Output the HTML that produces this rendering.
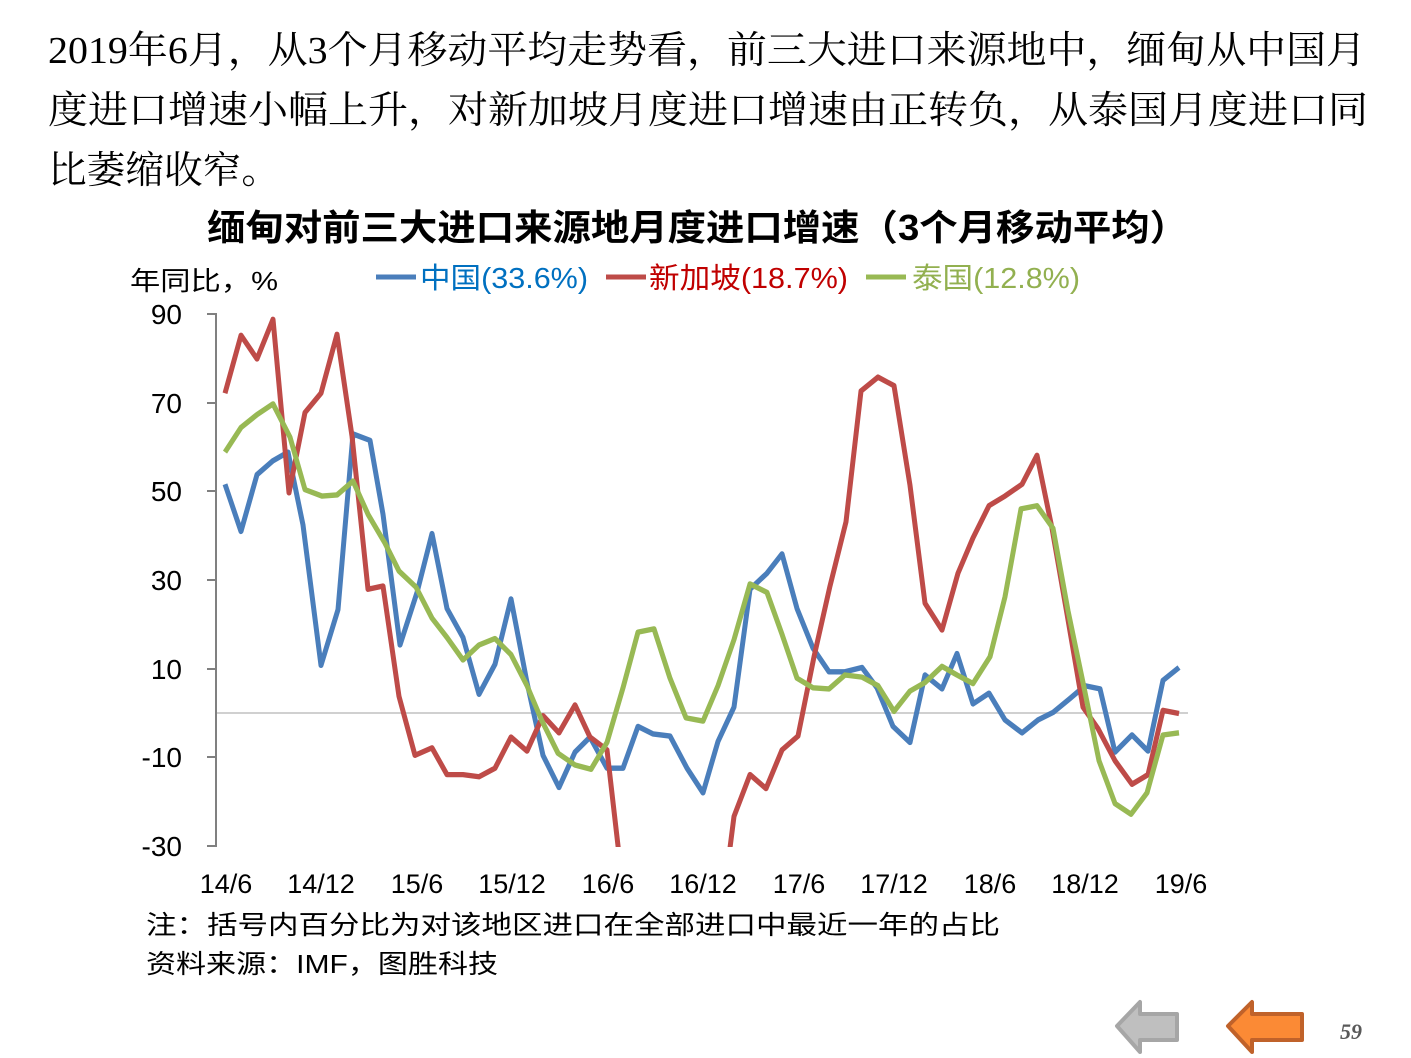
<!DOCTYPE html>
<html><head><meta charset="utf-8"><style>
body{margin:0;background:#fff;width:1411px;height:1058px;overflow:hidden;position:relative;}
</style></head><body>
<svg width="1411" height="1058" style="position:absolute;left:0;top:0" font-family="Liberation Sans, Noto Sans CJK SC, sans-serif">
<g font-family="Liberation Serif, Noto Serif CJK SC, serif" font-size="38">
<text x="48" y="63" textLength="1318" lengthAdjust="spacingAndGlyphs">2019年6月，从3个月移动平均走势看，前三大进口来源地中，缅甸从中国月</text>
<text x="48" y="123" textLength="1320" lengthAdjust="spacingAndGlyphs">度进口增速小幅上升，对新加坡月度进口增速由正转负，从泰国月度进口同</text>
<text x="48" y="183" textLength="232" lengthAdjust="spacingAndGlyphs">比萎缩收窄。</text>
</g>
<text x="207" y="240" font-size="36" font-weight="bold" textLength="981" lengthAdjust="spacingAndGlyphs">缅甸对前三大进口来源地月度进口增速（3个月移动平均）</text>
<text x="130" y="290" font-size="26" textLength="148" lengthAdjust="spacingAndGlyphs">年同比，%</text>
<line x1="376" y1="277" x2="416" y2="277" stroke="#4a7ebb" stroke-width="5"/>
<text x="420" y="288" font-size="29" fill="#0070c0" textLength="168" lengthAdjust="spacingAndGlyphs">中国(33.6%)</text>
<line x1="606" y1="277" x2="646" y2="277" stroke="#be4b48" stroke-width="5"/>
<text x="649" y="288" font-size="29" fill="#c00000" textLength="199" lengthAdjust="spacingAndGlyphs">新加坡(18.7%)</text>
<line x1="866" y1="277" x2="906" y2="277" stroke="#98b954" stroke-width="5"/>
<text x="912" y="288" font-size="29" fill="#92b050" textLength="168" lengthAdjust="spacingAndGlyphs">泰国(12.8%)</text>
<g font-size="28" text-anchor="end">
<text x="182" y="324">90</text><text x="182" y="413">70</text><text x="182" y="501">50</text><text x="182" y="590">30</text><text x="182" y="679">10</text><text x="182" y="767">-10</text><text x="182" y="856">-30</text>
</g>
<g stroke="#808080" stroke-width="2">
<line x1="216" y1="313" x2="216" y2="847"/>
<line x1="207" y1="314" x2="216" y2="314"/><line x1="207" y1="403" x2="216" y2="403"/><line x1="207" y1="491" x2="216" y2="491"/><line x1="207" y1="580" x2="216" y2="580"/><line x1="207" y1="669" x2="216" y2="669"/><line x1="207" y1="757" x2="216" y2="757"/><line x1="207" y1="846" x2="216" y2="846"/>
</g>
<line x1="217" y1="713" x2="1188" y2="713" stroke="#d0d0d0" stroke-width="2"/>
<g font-size="27" text-anchor="middle">
<text x="226" y="893">14/6</text><text x="321" y="893">14/12</text><text x="417" y="893">15/6</text><text x="512" y="893">15/12</text><text x="608" y="893">16/6</text><text x="703" y="893">16/12</text><text x="799" y="893">17/6</text><text x="894" y="893">17/12</text><text x="990" y="893">18/6</text><text x="1085" y="893">18/12</text><text x="1181" y="893">19/6</text>
</g>
<defs><clipPath id="c"><rect x="217" y="300" width="1000" height="547"/></clipPath></defs>
<g clip-path="url(#c)">
<g fill="none" stroke-width="5" stroke-linejoin="round" transform="translate(0,-21.43) scale(1,1.0714)">
<polyline stroke="#4a7ebb" points="225,472 241,516 257,463 273,450 288,442 303,510 321,641 338,589 353,425 370,431 383,500 400,622 417,573 432,518 447,588 463,615 479,668 495,640 511,579 527,657 543,725 559,755 575,722 590,708 607,737 623,737 638,698 653,705 670,707 687,737 703,760 718,712 734,680 750,570 767,555 782,537 797,588 813,625 829,647 845,647 862,643 877,662 893,698 910,713 925,650 942,663 957,630 973,677 989,667 1005,692 1022,704 1038,692 1053,685 1070,672 1085,660 1100,663 1115,722 1132,706 1148,721 1163,655 1179,643"/>
<polyline stroke="#be4b48" points="225,387 241,333 257,355 273,318 289,480 305,405 321,387 337,332 352,427 368,570 383,567 399,670 415,725 432,718 447,743 463,743 479,745 495,737 511,708 527,721 543,688 559,704 575,678 590,708 607,720 623,850 639,900 655,900 671,900 687,900 703,900 722,870 734,782 750,743 766,756 782,720 798,707 814,633 830,567 846,507 861,385 878,372 894,380 910,473 925,583 942,608 958,555 973,522 989,492 1005,483 1022,472 1037,445 1052,513 1067,593 1083,680 1098,700 1115,730 1132,752 1148,743 1163,683 1179,686"/>
<polyline stroke="#98b954" points="225,442 241,419 257,407 273,397 290,428 305,477 322,483 337,482 353,469 368,500 385,527 399,553 416,568 432,597 447,615 463,636 479,622 495,616 511,631 527,660 542,693 558,723 575,734 591,738 607,713 623,662 638,610 654,607 670,653 686,690 703,693 718,660 734,617 750,565 767,573 782,612 797,653 813,662 829,663 845,650 862,652 878,660 894,684 910,665 925,657 942,642 957,650 973,658 990,633 1005,577 1021,495 1037,492 1053,513 1068,590 1083,657 1099,730 1115,770 1131,780 1147,760 1163,706 1179,704"/>
</g>
</g>
<text x="146" y="934" font-size="26" textLength="854" lengthAdjust="spacingAndGlyphs">注：括号内百分比为对该地区进口在全部进口中最近一年的占比</text>
<text x="146" y="973" font-size="26" textLength="352" lengthAdjust="spacingAndGlyphs">资料来源：IMF，图胜科技</text>
<polygon points="1117,1026 1140,1002 1140,1014 1177,1014 1177,1040 1140,1040 1140,1052" fill="#bfbfbf" stroke="#a6a6a6" stroke-width="4" stroke-linejoin="round"/>
<polygon points="1228,1026 1252,1002 1252,1014 1302,1014 1302,1040 1252,1040 1252,1052" fill="#fb8a35" stroke="#c0622a" stroke-width="4" stroke-linejoin="round"/>
<text x="1351" y="1039" font-size="22" font-weight="bold" font-style="italic" font-family="Liberation Serif, serif" fill="#595959" text-anchor="middle">59</text>
</svg>
</body></html>
